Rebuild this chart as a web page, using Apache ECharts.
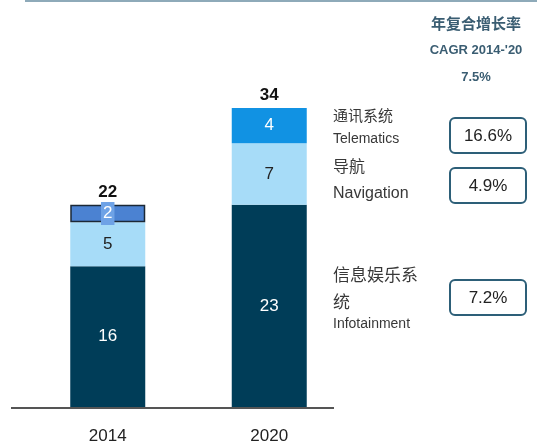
<!DOCTYPE html>
<html>
<head>
<meta charset="utf-8">
<script src="https://cdn.jsdelivr.net/npm/echarts@6/dist/echarts.min.js"></script>
<style>
    html, body { margin: 0; padding: 0; background: #fff; }
    #chart { width: 537px; height: 445px; }
</style>
</head>
<body>
<div id="chart"></div>
<script>
/* ===== 数据 ===== */
const years = ["2014", "2020"];
const infotainment = [16, 23];
const navigation = [5, 7];
const telematics = [2, 4];
const totals = [22, 34];
const cagrHeader = ["年复合增长率", "CAGR 2014-'20", "7.5%"];
const cagrValues = ["16.6%", "4.9%", "7.2%"];

const NARROW = "'Liberation Sans Narrow', 'Arial Narrow', 'Liberation Sans', sans-serif";
const CJK = "'Noto Sans CJK SC', sans-serif";

/* ===== 右侧文字 / 方框 ===== */
function cagrBox(y, text) {
    return {
        type: "group", left: 449, top: y,
        children: [
            { type: "rect", shape: { x: 0, y: 0, width: 76, height: 35, r: 5 },
              style: { fill: "#fff", stroke: "#2d5f78", lineWidth: 2 } },
            { type: "text", x: 38, y: 18,
              style: { text: text, fill: "#222", font: "17px " + NARROW, align: "center", verticalAlign: "middle" } },
        ],
    };
}

function label(x, y, text, size, family) {
    return { type: "text", left: x, top: y,
             style: { text: text, fill: "#383838", font: size + "px " + family } };
}

const graphics = [
    { type: "line", shape: { x1: 25, y1: 1, x2: 537, y2: 1 },
      style: { stroke: "#8eaab9", lineWidth: 2 } },
    { type: "line", shape: { x1: 11, y1: 408, x2: 334, y2: 408 },
      style: { stroke: "#555", lineWidth: 2 } },
    ...cagrHeader.map((t, i) => ({
        type: "text", x: 476, y: 23 + i * 27,
        style: { text: t, fill: "#3a5d72", align: "center", verticalAlign: "middle",
                 font: "bold " + (i === 0 ? 15 : 13) + "px " + (i === 0 ? CJK : NARROW) },
    })),
    label(333, 108, "通讯系统", 15, CJK),
    label(333, 132, "Telematics", 14, NARROW),
    label(333, 158, "导航", 16, CJK),
    label(333, 186, "Navigation", 16, NARROW),
    label(333, 266, "信息娱乐系", 17, CJK),
    label(333, 293, "统", 17, CJK),
    label(333, 317, "Infotainment", 14, NARROW),
    cagrBox(117, cagrValues[0]),
    cagrBox(167, cagrValues[1]),
    cagrBox(279, cagrValues[2]),
];

/* ===== 图表 ===== */
const chart = echarts.init(document.getElementById("chart"));
const inside = (color) => ({ show: true, position: "inside", color: color, fontSize: 17, fontFamily: NARROW });

chart.setOption({
    animation: false,
    grid: { left: 27, width: 323, top: 108, bottom: 37 },
    xAxis: {
        type: "category", data: years,
        axisLine: { show: false }, axisTick: { show: false },
        axisLabel: { color: "#222", fontSize: 17, fontFamily: NARROW, margin: 21 },
    },
    yAxis: { type: "value", min: 0, max: 34, show: false, splitLine: { show: false } },
    series: [
        { type: "bar", stack: "t", barWidth: 75, data: infotainment,
          itemStyle: { color: "#003d58" }, label: inside("#fff") },
        { type: "bar", stack: "t", data: navigation,
          itemStyle: { color: "#a7dcf8" }, label: inside("#222") },
        { type: "bar", stack: "t",
          data: [
              { value: telematics[0], itemStyle: { color: "#4b82d2", borderColor: "#1b2836", borderWidth: 1.5 },
                label: { backgroundColor: "#6ea2e6", padding: [3, 2] } },
              { value: telematics[1], itemStyle: { color: "#1192e3" } },
          ],
          label: inside("#fff") },
        { type: "bar", stack: "t", data: totals.map(() => 0),
          label: { show: true, position: "top", distance: 4, color: "#111", fontSize: 17, fontWeight: "bold",
                   fontFamily: NARROW, formatter: (p) => totals[p.dataIndex] } },
    ],
    graphic: graphics,
});
</script>
</body>
</html>
